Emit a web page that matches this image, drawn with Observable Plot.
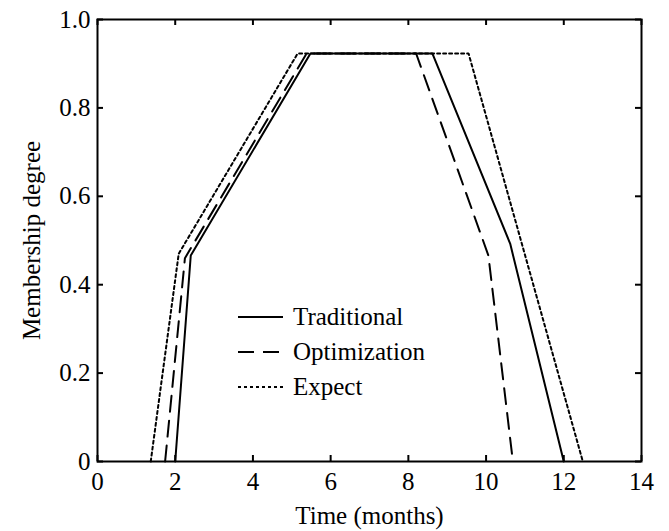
<!DOCTYPE html>
<html>
<head>
<meta charset="utf-8">
<script src="https://cdn.jsdelivr.net/npm/d3@7"></script>
<script src="https://cdn.jsdelivr.net/npm/@observablehq/plot@0.6"></script>
<style>
  html, body { margin: 0; padding: 0; background: #fff; }
  #wrap { position: relative; width: 669px; height: 531px; }
  #legend { position: absolute; left: 238px; top: 299px; font-family: "Liberation Serif", "Times New Roman", serif; font-size: 25px; color: #000; }
  .row { display: flex; align-items: center; height: 35px; }
  .row svg { width: 45px; height: 6px; margin-right: 10px; }
</style>
</head>
<body>
<div id="wrap"><div id="legend"></div></div>
<script>
const seriesNames = ["Traditional", "Optimization", "Expect"];
const timesTraditional = [2.0, 2.4, 5.48, 8.62, 10.62, 12.0];
const membershipTraditional = [0, 0.466, 0.923, 0.923, 0.493, 0];
const timesOptimization = [1.74, 2.25, 5.38, 8.2, 10.06, 10.69];
const membershipOptimization = [0, 0.46, 0.923, 0.923, 0.466, 0];
const timesExpect = [1.37, 2.09, 5.15, 9.55, 12.49];
const membershipExpect = [0, 0.47, 0.923, 0.923, 0];
const xTicks = [0, 2, 4, 6, 8, 10, 12, 14];
const yTicks = [0, 0.2, 0.4, 0.6, 0.8, 1.0];

const dashes = {Traditional: null, Optimization: "16,9", Expect: "3,3"};
const toRows = (name, xs, ys) => xs.map((t, i) => ({series: name, time: t, value: ys[i]}));
const data = [
  ...toRows("Traditional", timesTraditional, membershipTraditional),
  ...toRows("Optimization", timesOptimization, membershipOptimization),
  ...toRows("Expect", timesExpect, membershipExpect)
];

const W = 669, H = 531;
const mL = 97, mR = 28, mT = 19, mB = 70;
const innerW = W - mL - mR, innerH = H - mT - mB;
const tk = 6;

const chart = Plot.plot({
  width: W, height: H,
  marginLeft: mL, marginRight: mR, marginTop: mT, marginBottom: mB,
  style: {fontFamily: "'Liberation Serif', 'Times New Roman', serif", fontSize: "25px", color: "#000", background: "#fff"},
  x: {domain: [0, 14]},
  y: {domain: [0, 1]},
  marks: [
    ...seriesNames.map(name => Plot.line(data.filter(d => d.series === name), {
      x: "time", y: "value", stroke: "#000", strokeWidth: 2,
      strokeDasharray: dashes[name], strokeLinejoin: "miter"
    })),
    Plot.tickX(xTicks, {x: d => d, stroke: "#000", strokeWidth: 2, insetTop: innerH - tk}),
    Plot.tickX(xTicks, {x: d => d, stroke: "#000", strokeWidth: 2, insetBottom: innerH - tk}),
    Plot.tickY(yTicks, {y: d => d, stroke: "#000", strokeWidth: 2, insetRight: innerW - tk}),
    Plot.tickY(yTicks, {y: d => d, stroke: "#000", strokeWidth: 2, insetLeft: innerW - tk}),
    Plot.axisX(xTicks, {tickSize: 0, tickPadding: 11, tickFormat: d => String(d),
      label: "Time (months)", labelAnchor: "center", labelArrow: "none", labelOffset: 62}),
    Plot.axisY(yTicks, {tickSize: 0, tickPadding: 7, tickFormat: d => d === 0 ? "0" : d.toFixed(1),
      label: "Membership degree", labelAnchor: "center", labelArrow: "none", labelOffset: 75}),
    Plot.frame({stroke: "#000", strokeWidth: 2})
  ]
});
document.getElementById("wrap").prepend(chart);

const legend = document.getElementById("legend");
seriesNames.forEach(name => {
  const row = document.createElement("div");
  row.className = "row";
  const dash = dashes[name] ? ` stroke-dasharray="${dashes[name]}"` : "";
  row.innerHTML = `<svg viewBox="0 0 45 6"><line x1="0" y1="3" x2="45" y2="3" stroke="#000" stroke-width="2"${dash}/></svg><span>${name}</span>`;
  legend.appendChild(row);
});
</script>
</body>
</html>
